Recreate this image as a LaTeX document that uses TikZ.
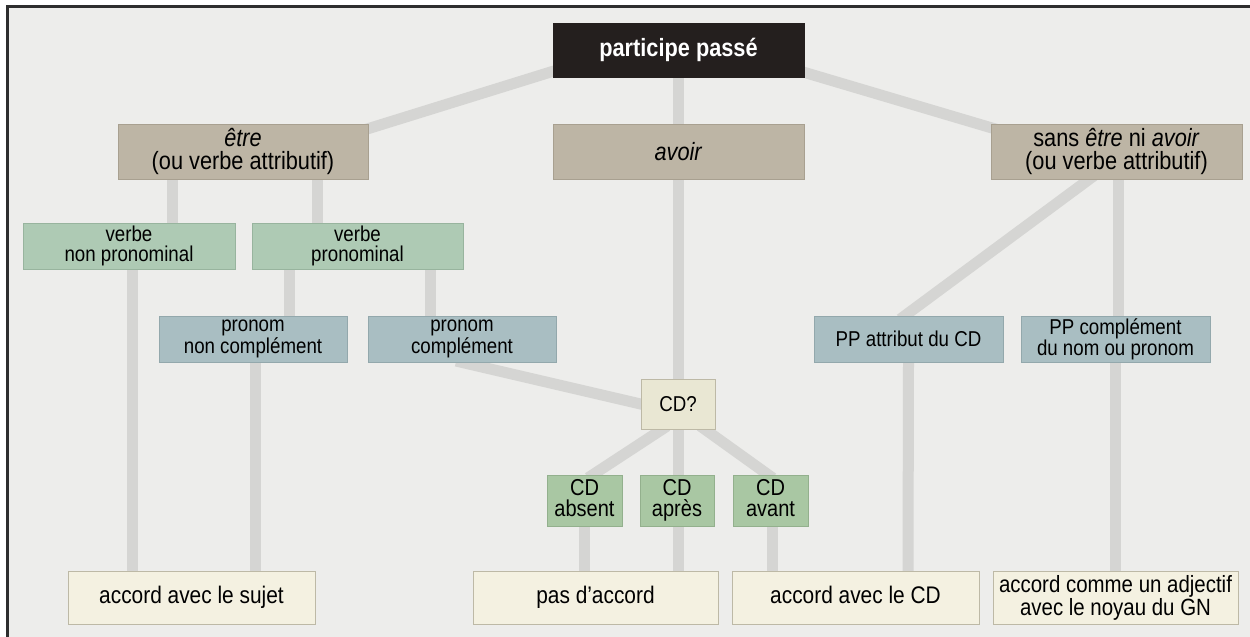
\documentclass[tikz,border=0pt]{standalone}
\usepackage{fontspec}
\setmainfont{Liberation Sans}[FakeStretch=0.87]
\usetikzlibrary{calc}
\pgfdeclarelayer{bg}
\pgfdeclarelayer{lines}
\pgfsetlayers{bg,lines,main}
\definecolor{bgc}{HTML}{EDEDEB}
\definecolor{linec}{HTML}{D5D5D3}
\definecolor{framec}{HTML}{2E2E2E}
\definecolor{titlec}{HTML}{241F1E}
\definecolor{tanc}{HTML}{BDB5A5}
\definecolor{tanb}{HTML}{A8A090}
\definecolor{greenc}{HTML}{AECAB4}
\definecolor{greenb}{HTML}{98B49E}
\definecolor{cdgreen}{HTML}{A9C7A3}
\definecolor{cdgreenb}{HTML}{93B08D}
\definecolor{bluec}{HTML}{A9BEC2}
\definecolor{blueb}{HTML}{93A8AC}
\definecolor{creamc}{HTML}{F4F1E1}
\definecolor{creamb}{HTML}{BDB9A6}
\definecolor{cdqc}{HTML}{E9E7D3}
\tikzset{
  box/.style={draw, line width=0.8pt, inner sep=0pt, align=center, text=black},
  oneline/.style={text height=17pt, text depth=5pt},
  titlebox/.style={box, fill=titlec, draw=titlec, text=white, font=\bfseries\fontsize{25}{22}\selectfont, minimum height=54pt},
  tanbox/.style={box, fill=tanc, draw=tanb, font=\fontsize{25}{23}\selectfont, minimum height=55pt},
  greenbox/.style={box, fill=greenc, draw=greenb, font=\fontsize{21.5}{20}\selectfont, minimum height=46pt},
  bluebox/.style={box, fill=bluec, draw=blueb, font=\fontsize{21.5}{20}\selectfont, minimum height=46pt},
  cdbox/.style={box, fill=cdgreen, draw=cdgreenb, font=\fontsize{23}{21}\selectfont, minimum width=75pt, minimum height=51pt},
  cdqbox/.style={box, fill=cdqc, draw=creamb, font=\fontsize{21.5}{20}\selectfont, minimum width=74pt, minimum height=50pt},
  endbox/.style={box, fill=creamc, draw=creamb, font=\fontsize{24}{21}\selectfont, minimum height=53pt},
  conn/.style={line width=11pt, draw=linec, shorten <=-6pt, shorten >=-6pt},
}
\begin{document}
\begin{tikzpicture}[x=1pt,y=-1pt]
\useasboundingbox (0,0) rectangle (1250,637);
\begin{pgfonlayer}{bg}
  \fill[white] (0,0) rectangle (1250,637);
  \fill[bgc] (7.5,6) rectangle (1250,637);
  \draw[framec, line width=3pt] (7.5,637) -- (7.5,6) -- (1250,6);
\end{pgfonlayer}

% level 0
\node[titlebox, minimum width=251pt] (pp) at (678.5,50) {participe passé};
% level 1
\node[tanbox, minimum width=250pt] (etre) at (243,151.5) {\textit{être}\\(ou verbe attributif)};
\node[tanbox, minimum width=251pt] (avoir) at (678.5,151.5) {\textit{avoir}};
\node[tanbox, minimum width=251pt] (sans) at (1116.5,151.5) {sans \textit{être} ni \textit{avoir}\\(ou verbe attributif)};
% level 2
\node[greenbox, minimum width=212pt] (vnp) at (129,246) {verbe\\non pronominal};
\node[greenbox, minimum width=211pt] (vp) at (357.5,246) {verbe\\pronominal};
% level 3
\node[bluebox, minimum width=188pt] (pnc) at (253,339) {pronom\\non complément};
\node[bluebox, minimum width=188pt] (pc) at (462,339) {pronom\\complément};
\node[bluebox, minimum width=189pt] (ppa) at (908.5,339) {PP attribut du CD};
\node[bluebox, minimum width=189pt] (ppc) at (1115.5,339) {PP complément\\du nom ou pronom};
% CD
\node[cdqbox] (cdq) at (678,404) {CD?};
\node[cdbox] (cdabs) at (584.5,500.5) {CD\\absent\vphantom{p}};
\node[cdbox, minimum width=74pt] (cdap) at (677,500.5) {CD\\après};
\node[cdbox] (cdav) at (770.5,500.5) {CD\\avant\vphantom{p}};
% bottom
\node[endbox, oneline, minimum width=247pt] (sujet) at (191.5,597.5) {accord avec le sujet};
\node[endbox, oneline, minimum width=245pt] (pas) at (595.5,597.5) {pas d’accord};
\node[endbox, oneline, minimum width=247pt] (acd) at (855.5,597.5) {accord avec le CD};
\node[endbox, minimum width=245pt, font=\fontsize{23.5}{21.5}\selectfont] (adj) at (1115.5,597.5) {accord comme un adjectif\\avec le noyau du GN};

\begin{pgfonlayer}{lines}
  \draw[conn] ([yshift=6pt]pp.south west) -- ([yshift=-5pt]etre.north east);
  \draw[conn] (pp.south) -- (avoir.north);
  \draw[conn] ([yshift=5pt]pp.south east) -- ([yshift=-4pt]sans.north west);
  \draw[conn] ([xshift=-71pt]etre.south) -- ([xshift=43pt]vnp.north);
  \draw[conn] ([xshift=74pt]etre.south) -- ([xshift=-40.5pt]vp.north);
  \draw[conn] ([xshift=3pt]vnp.south) -- ([xshift=-59.5pt]sujet.north);
  \draw[conn] ([xshift=-68.5pt]vp.south) -- ([xshift=36pt]pnc.north);
  \draw[conn] ([xshift=72.5pt]vp.south) -- ([xshift=-32pt]pc.north);
  \draw[conn] ([xshift=2pt]pnc.south) -- ([xshift=63.5pt]sujet.north);
  \draw[conn] (pc.south) -- (cdq.west);
  \draw[conn] ([xshift=-0.5pt]avoir.south) -- ([xshift=82.5pt]pas.north);
  \draw[conn] ([xshift=-16pt]cdq.south) -- ([xshift=8.5pt]cdabs.north);
  \draw[conn] ([xshift=27pt]cdq.south) -- ([xshift=-2.5pt]cdav.north);
  \draw[conn] (cdabs.south) -- ([xshift=-11pt]pas.north);
  \draw[conn] ([xshift=1.5pt]cdav.south) -- ([xshift=-83.5pt]acd.north);
  \draw[conn] ([xshift=-27.5pt]sans.south) -- ([xshift=-3.5pt]ppa.north);
  \draw[conn] ([xshift=1.5pt]sans.south) -- ([xshift=2.5pt]ppc.north);
  \draw[conn] (ppa.south) -- ([xshift=52.5pt]acd.north);
  \draw[conn] (ppc.south) -- (adj.north);
\end{pgfonlayer}
\end{tikzpicture}
\end{document}
